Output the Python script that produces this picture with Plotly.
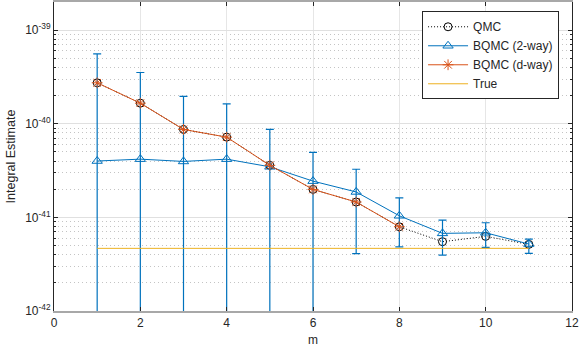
import plotly.graph_objects as go

m = list(range(1, 12))
qmc = [2.74e-40, 1.66e-40, 8.7e-41, 7.2e-41, 3.6e-41, 1.99e-41, 1.46e-41, 7.94e-42, 5.5e-42, 6.27e-42, 5.15e-42]
bqmc2 = [4.0e-41, 4.19e-41, 3.96e-41, 4.19e-41, 3.47e-41, 2.44e-41, 1.87e-41, 1.04e-41, 6.75e-42, 6.85e-42, 5.19e-42]
bqmc2_err_plus = [5.17e-40, 3.11e-40, 1.57e-40, 1.21e-40, 5.23e-41, 2.5e-41, 1.40e-41, 5.8e-42, 2.6e-42, 1.91e-42, 0.68e-42]
bqmc2_err_minus = [5.17e-40, 3.11e-40, 1.57e-40, 1.21e-40, 5.23e-41, 2.5e-41, 1.46e-41, 5.55e-42, 2.79e-42, 2.06e-42, 1.06e-42]
m_d = list(range(1, 9))
bqmcd = [2.74e-40, 1.66e-40, 8.7e-41, 7.2e-41, 3.6e-41, 1.99e-41, 1.46e-41, 7.94e-42]
true_val = 4.67e-42

y_tickvals = [1e-42, 1e-41, 1e-40, 1e-39]
y_ticktext = ['10<sup>-42</sup>', '10<sup>-41</sup>', '10<sup>-40</sup>', '10<sup>-39</sup>']
x_tickvals = [0, 2, 4, 6, 8, 10, 12]

BLUE = '#0072BD'
ORANGE = '#D95319'
YELLOW = '#EDB120'
DARK = '#262626'

minor_vals = [k * 10.0 ** e for e in (-42, -41, -40, -39) for k in range(2, 10)]

fig = go.Figure()
fig.add_trace(go.Scatter(
    x=m, y=qmc, name='QMC', mode='lines+markers',
    line=dict(color='black', width=1, dash='1px,2px'),
    marker=dict(symbol='circle-open', size=8, color='black', line=dict(width=1))))
fig.add_trace(go.Scatter(
    x=m, y=bqmc2, name='BQMC (2-way)', mode='lines+markers',
    line=dict(color=BLUE, width=1),
    marker=dict(symbol='triangle-up-open', size=9, color=BLUE, line=dict(width=1)),
    error_y=dict(type='data', array=bqmc2_err_plus, arrayminus=bqmc2_err_minus,
                 symmetric=False, color=BLUE, thickness=1.2, width=4)))
fig.add_trace(go.Scatter(
    x=m_d, y=bqmcd, name='BQMC (d-way)', mode='lines+markers',
    line=dict(color=ORANGE, width=1),
    marker=dict(symbol='asterisk-open', size=9, color=ORANGE, line=dict(width=1, color=ORANGE))))
fig.add_trace(go.Scatter(
    x=[m[0], m[-1]], y=[true_val, true_val], name='True', mode='lines',
    line=dict(color=YELLOW, width=1)))

fig.update_layout(
    width=581, height=352,
    margin=dict(l=54, r=9, t=2, b=41),
    paper_bgcolor='white', plot_bgcolor='white',
    font=dict(family='Liberation Sans, Arial, sans-serif', size=12, color=DARK),
    showlegend=True,
    legend=dict(x=0.975, y=0.97, xanchor='right', yanchor='top',
                bgcolor='white', bordercolor=DARK, borderwidth=1,
                font=dict(size=12), tracegroupgap=0,
                itemwidth=40),
)
fig.update_xaxes(
    range=[0, 12], tickmode='array', tickvals=x_tickvals,
    automargin=False,
    showgrid=True, gridcolor='#e6e6e6', gridwidth=1,
    showline=True, linecolor='#a8a8a8', linewidth=1.5, mirror='allticks',
    ticks='inside', ticklen=4, tickcolor=DARK,
    zeroline=False,
    title=dict(text='m', font=dict(size=12), standoff=6),
)
fig.update_yaxes(
    type='log', range=[-42, -38.699],
    automargin=False,
    tickmode='array', tickvals=y_tickvals, ticktext=y_ticktext,
    showgrid=True, gridcolor='#e0e0e0', gridwidth=1,
    showline=True, linecolor=DARK, linewidth=1, mirror='allticks',
    ticks='inside', ticklen=4, tickcolor=DARK,
    minor=dict(tickmode='array', tickvals=minor_vals, showgrid=True,
               griddash='1px,3px', gridcolor='#c4c4c4', gridwidth=1,
               ticks='inside', ticklen=2, tickcolor=DARK),
    zeroline=False,
    title=dict(text='Integral Estimate', font=dict(size=12.5), standoff=6),
)

fig.write_html('out.html', config={'displayModeBar': False},
               post_script="document.body.style.margin='0';")
